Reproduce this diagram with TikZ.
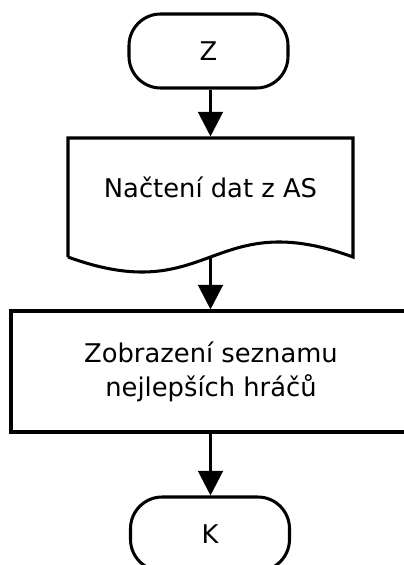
\documentclass[tikz,border=0pt]{standalone}
\usepackage{fontspec}
\setmainfont{DejaVu Sans}
\usetikzlibrary{arrows.meta}

\begin{document}
\begin{tikzpicture}[x=0.03cm,y=-0.03cm,line width=2.6pt,
  >={Triangle[length=21pt,width=21pt]},
  font=\fontsize{22}{29}\selectfont,
  term/.style={draw,rectangle,rounded corners=0.95cm,minimum width=4.77cm,minimum height=2.22cm,inner sep=0pt},
  proc/.style={draw,rectangle,minimum width=12.0cm,minimum height=3.63cm,align=center,inner sep=0pt},
  docbox/.style={rectangle,minimum width=8.55cm,minimum height=2.94cm,inner sep=0pt},
  flow/.style={->,line cap=butt}]
\useasboundingbox (0,0) rectangle (404,565);
\clip (0,0) rectangle (404,565);
% uzly
\node[term] (start) at (208.5,51) {Z};
\node[docbox] (doc) at (210.5,187) {Načtení dat z AS};
\draw[line join=miter] (68,257) -- (68,138) -- (353,138) -- (353,257)
  .. controls (210.5,205) and (210.5,309) .. (68,257);
\coordinate (docb) at (210.5,257);
\node[proc] (show) at (211,371.5) {Zobrazení seznamu\\nejlepších hráčů};
\node[term] (end) at (210,534) {K};
% spojnice
\draw[flow] (start.south -| docb) -- (doc.north);
\draw[flow] (docb) -- (docb |- show.north);
\draw[flow] (show.south -| docb) -- (end.north -| docb);
\end{tikzpicture}
\end{document}
